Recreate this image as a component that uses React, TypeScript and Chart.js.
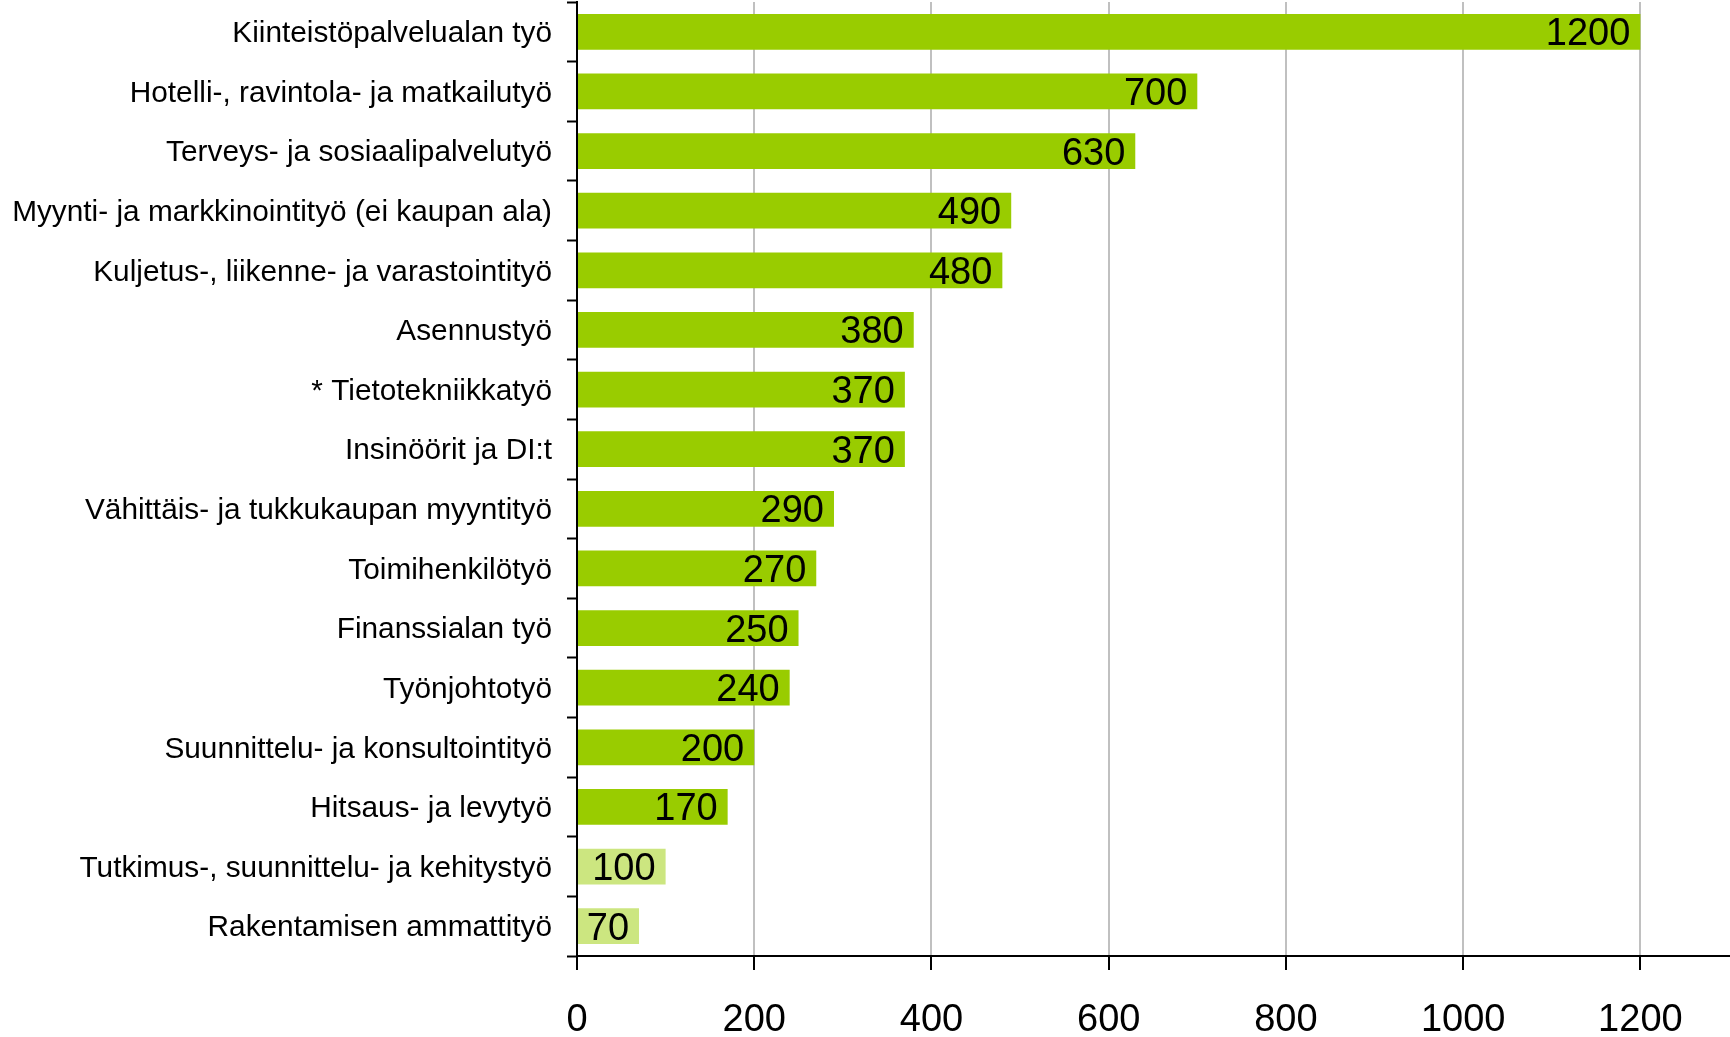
import React, { useEffect, useRef } from "react";
import { Chart, registerables } from "chart.js";

Chart.register(...registerables);

const categories = [
  "Kiinteistöpalvelualan työ",
  "Hotelli-, ravintola- ja matkailutyö",
  "Terveys- ja sosiaalipalvelutyö",
  "Myynti- ja markkinointityö (ei kaupan ala)",
  "Kuljetus-, liikenne- ja varastointityö",
  "Asennustyö",
  "* Tietotekniikkatyö",
  "Insinöörit ja DI:t",
  "Vähittäis- ja tukkukaupan myyntityö",
  "Toimihenkilötyö",
  "Finanssialan työ",
  "Työnjohtotyö",
  "Suunnittelu- ja konsultointityö",
  "Hitsaus- ja levytyö",
  "Tutkimus-, suunnittelu- ja kehitystyö",
  "Rakentamisen ammattityö",
];

const values = [1200, 700, 630, 490, 480, 380, 370, 370, 290, 270, 250, 240, 200, 170, 100, 70];

// last two bars drawn in a lighter shade
const lightBars = [false, false, false, false, false, false, false, false, false, false, false, false, false, false, true, true];

const xTicks = [0, 200, 400, 600, 800, 1000, 1200];

const DARK = "#99CC00";
const LIGHT = "#CCE680";
const FONT = "'Liberation Sans', Arial, sans-serif";

const valueLabels = {
  id: "valueLabels",
  afterDatasetsDraw(chart: any) {
    const ctx = chart.ctx;
    const meta = chart.getDatasetMeta(0);
    ctx.save();
    ctx.font = `38px ${FONT}`;
    ctx.fillStyle = "#000";
    ctx.textAlign = "right";
    ctx.textBaseline = "middle";
    meta.data.forEach((bar: any, i: number) => {
      const v = chart.data.datasets[0].data[i];
      ctx.fillText(String(v), bar.x - 10, bar.y + 3);
    });
    ctx.restore();
  },
};

export default function App() {
  const ref = useRef<HTMLCanvasElement | null>(null);

  useEffect(() => {
    document.body.style.margin = "0";
    const canvas = ref.current;
    if (!canvas) return;
    const chart = new Chart(canvas, {
      type: "bar",
      data: {
        labels: categories,
        datasets: [
          {
            data: values,
            backgroundColor: lightBars.map((l) => (l ? LIGHT : DARK)),
            borderWidth: 0,
            categoryPercentage: 1,
            barPercentage: 0.6,
          },
        ],
      },
      options: {
        indexAxis: "y",
        animation: false,
        responsive: false,
        devicePixelRatio: 1,
        layout: { padding: { top: 2, right: 1, left: 0, bottom: 0 } },
        plugins: {
          legend: { display: false },
          tooltip: { enabled: false },
        },
        scales: {
          x: {
            type: "linear",
            min: 0,
            max: 1300,
            afterFit(scale: any) {
              scale.height = 81;
              scale.paddingLeft = 0;
              scale.paddingRight = 0;
              scale.paddingTop = 0;
              scale.paddingBottom = 0;
            },
            afterBuildTicks(scale: any) {
              scale.ticks = xTicks.map((v) => ({ value: v }));
            },
            ticks: {
              font: { family: FONT, size: 38 },
              color: "#000",
              padding: 28,
              maxRotation: 0,
              autoSkip: false,
              includeBounds: false,
              callback: (v: any) => String(v),
            },
            grid: {
              color: (c: any) => (c.tick && c.tick.value === 0 ? "rgba(0,0,0,0)" : "#C0C0C0"),
              tickColor: "#000",
              lineWidth: 2,
              tickWidth: 2,
              tickLength: 14,
              drawTicks: true,
            },
            border: { color: "#000", width: 2 },
          },
          y: {
            afterFit(scale: any) {
              scale.width = 577;
              scale.paddingLeft = 0;
              scale.paddingRight = 0;
              scale.paddingTop = 0;
              scale.paddingBottom = 0;
            },
            ticks: {
              font: { family: FONT, size: 29.8 },
              color: "#000",
              padding: 15,
              labelOffset: 2,
              autoSkip: false,
            },
            grid: {
              offset: true,
              drawOnChartArea: false,
              tickColor: "#000",
              tickLength: 10,
              tickWidth: 2,
            },
            border: { color: "#000", width: 2 },
          },
        },
      },
      plugins: [valueLabels],
    });
    return () => chart.destroy();
  }, []);

  return (
    <div style={{ width: 1730, height: 1037 }}>
      <canvas ref={ref} width={1730} height={1037} style={{ display: "block" }} />
    </div>
  );
}
